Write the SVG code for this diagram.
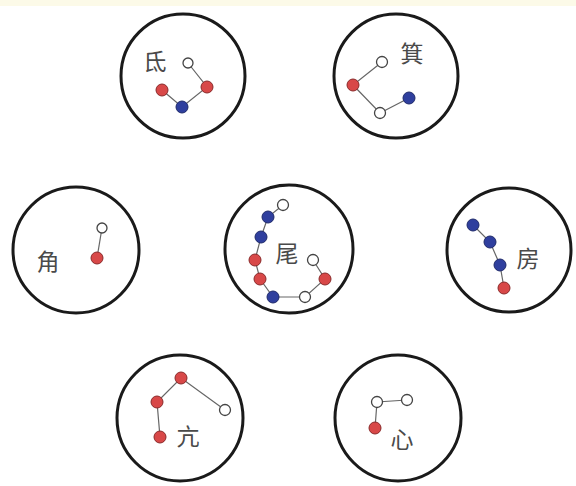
<svg xmlns="http://www.w3.org/2000/svg" width="576" height="486" viewBox="0 0 576 486">
<style>
.ring{fill:none;stroke:#1a1a1a;stroke-width:3}
.r{fill:#d84848;stroke:#8a2a2a;stroke-width:1}
.b{fill:#2f3f9e;stroke:#1f2a6a;stroke-width:1}
.w{fill:#fff;stroke:#444;stroke-width:1.3}
.ln{fill:none;stroke:#666;stroke-width:1.2}
.t{font-family:"Noto Sans CJK SC","Noto Sans CJK JP",sans-serif;font-size:23px;fill:#4a4a4a;text-anchor:middle;dominant-baseline:central}
</style>
<rect width="576" height="486" fill="#fff"/>
<rect width="576" height="6" fill="#fcfae8"/>
<g id="connectors">
<polyline class="ln" points="188,63 207,87 182,107 162,90"/>
<polyline class="ln" points="382,62 353,85 380,113 409,98"/>
<polyline class="ln" points="102,228 97,258"/>
<polyline class="ln" points="283,205 268,217 261,237 255,260 260,279 273,297 305,297 325,279 313,260"/>
<polyline class="ln" points="473,225 490,242 500,265 504,288"/>
<polyline class="ln" points="225,410 181,378 157,402 160,437"/>
<polyline class="ln" points="407,400 377,402 375,428"/>
</g>
<g id="di">
<circle class="ring" cx="183" cy="76" r="62"/>
<text class="t" x="155" y="60">氐</text>
<circle class="w" cx="188" cy="63" r="5"/>
<circle class="r" cx="207" cy="87" r="6"/>
<circle class="b" cx="182" cy="107" r="6"/>
<circle class="r" cx="162" cy="90" r="6"/>
</g>
<g id="ji">
<circle class="ring" cx="396" cy="76" r="62"/>
<text class="t" x="412" y="52">箕</text>
<circle class="w" cx="382" cy="62" r="5.5"/>
<circle class="r" cx="353" cy="85" r="6"/>
<circle class="w" cx="380" cy="113" r="5.5"/>
<circle class="b" cx="409" cy="98" r="6"/>
</g>
<g id="jiao">
<circle class="ring" cx="76" cy="250" r="63"/>
<text class="t" x="48" y="260">角</text>
<circle class="w" cx="102" cy="228" r="5"/>
<circle class="r" cx="97" cy="258" r="6"/>
</g>
<g id="wei">
<circle class="ring" cx="289" cy="249" r="64"/>
<text class="t" x="287" y="252">尾</text>
<circle class="w" cx="283" cy="205" r="5.5"/>
<circle class="b" cx="268" cy="217" r="6"/>
<circle class="b" cx="261" cy="237" r="6"/>
<circle class="r" cx="255" cy="260" r="6"/>
<circle class="r" cx="260" cy="279" r="6"/>
<circle class="b" cx="273" cy="297" r="6"/>
<circle class="w" cx="305" cy="297" r="5.5"/>
<circle class="r" cx="325" cy="279" r="6"/>
<circle class="w" cx="313" cy="260" r="5.5"/>
</g>
<g id="fang">
<circle class="ring" cx="509" cy="250" r="62"/>
<text class="t" x="528" y="257">房</text>
<circle class="b" cx="473" cy="225" r="6"/>
<circle class="b" cx="490" cy="242" r="6"/>
<circle class="b" cx="500" cy="265" r="6"/>
<circle class="r" cx="504" cy="288" r="6"/>
</g>
<g id="kang">
<circle class="ring" cx="180" cy="418" r="63"/>
<text class="t" x="188" y="435">亢</text>
<circle class="r" cx="181" cy="378" r="6"/>
<circle class="r" cx="157" cy="402" r="6"/>
<circle class="r" cx="160" cy="437" r="6"/>
<circle class="w" cx="225" cy="410" r="5.5"/>
</g>
<g id="xin">
<circle class="ring" cx="398" cy="418" r="63"/>
<text class="t" x="402" y="438">心</text>
<circle class="w" cx="377" cy="402" r="5.5"/>
<circle class="w" cx="407" cy="400" r="5.5"/>
<circle class="r" cx="375" cy="428" r="6"/>
</g>
</svg>
